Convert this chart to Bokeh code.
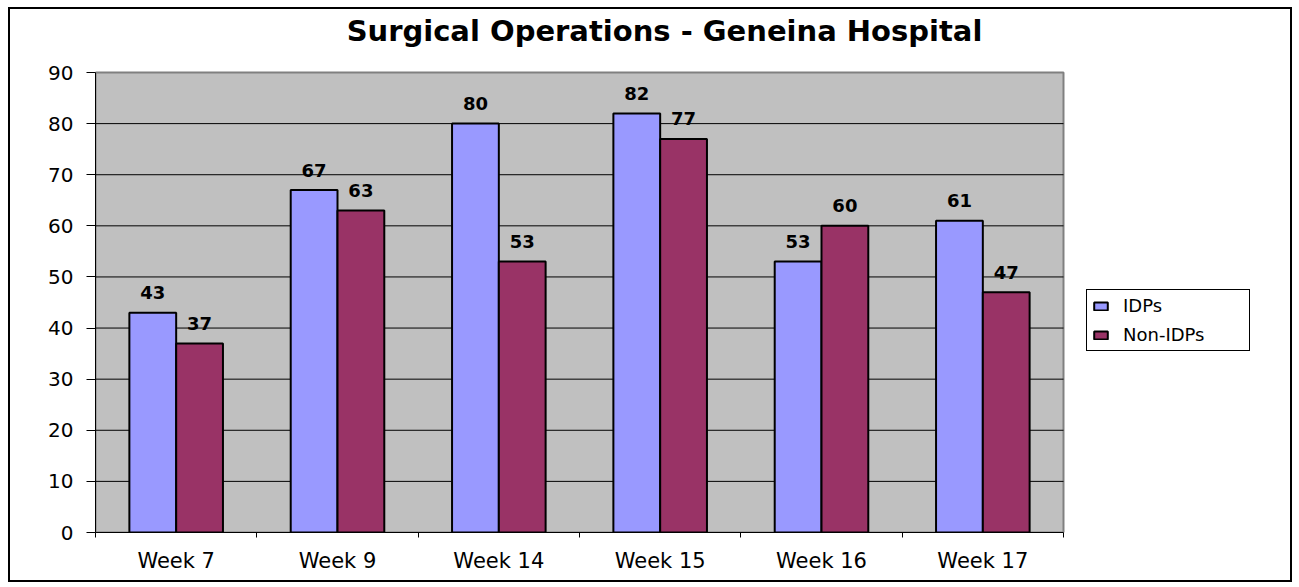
from bokeh.plotting import figure
from bokeh.models import Range1d, FixedTicker, Legend, LegendItem, Label
from bokeh.embed import file_html
from bokeh.resources import INLINE
from bokeh.core.properties import value

weeks = ["Week 7", "Week 9", "Week 14", "Week 15", "Week 16", "Week 17"]
idps = [43, 67, 80, 82, 53, 61]
non_idps = [37, 63, 53, 77, 60, 47]
y_ticks = [0, 10, 20, 30, 40, 50, 60, 70, 80, 90]
series_names = ["IDPs", "Non-IDPs"]
title_text = "Surgical Operations - Geneina Hospital"

FONT = "DejaVu Sans"
IDP_COLOR = "#9999FF"
NON_COLOR = "#993366"
PLOT_GRAY = "#C0C0C0"

# layout (pixels)
W, H = 1284, 575
LEFT, BOTTOM = 85, 52
PLOT_W, PLOT_H = 968, 460          # width/height of the gray plot area
FRAME_W = 1175                     # frame extends right to hold the legend
FRAME_H = H - BOTTOM               # frame extends up to hold the title

n = len(weeks)
y_max = y_ticks[-1]
x_end = n * FRAME_W / PLOT_W
y_end = y_max * FRAME_H / PLOT_H

centers = [i + 0.5 for i in range(n)]
bar_w = 0.29
x_idp = [c - bar_w / 2 for c in centers]
x_non = [c + bar_w / 2 for c in centers]

p = figure(width=W, height=H, output_backend="svg", toolbar_location=None,
           x_range=Range1d(0, x_end), y_range=Range1d(0, y_end),
           min_border_left=LEFT, min_border_right=W - LEFT - FRAME_W,
           min_border_top=0, min_border_bottom=BOTTOM,
           background_fill_color="white", border_fill_color="white")
p.styles = {"border": "2px solid black", "margin-left": "8px", "margin-top": "7px"}
p.outline_line_color = None

# gray plot area
p.quad(left=[0], right=[n], bottom=[0], top=[y_max], level="image",
       fill_color=PLOT_GRAY, line_color="#808080", line_width=2)
# horizontal gridlines inside the plot area
inner = y_ticks[1:-1]
p.segment(x0=[0] * len(inner), x1=[n] * len(inner), y0=inner, y1=inner,
          line_color="black", line_width=1, level="underlay")

r1 = p.vbar(x=x_idp, top=idps, bottom=0, width=bar_w, fill_color=IDP_COLOR,
            line_color="black", line_width=2)
r2 = p.vbar(x=x_non, top=non_idps, bottom=0, width=bar_w, fill_color=NON_COLOR,
            line_color="black", line_width=2)

p.text(x=x_idp, y=idps, text=[str(v) for v in idps], text_align="center",
       text_baseline="alphabetic", y_offset=-20, text_font=value(FONT),
       text_font_style="bold", text_font_size="18px", text_color="black")
p.text(x=x_non, y=non_idps, text=[str(v) for v in non_idps], text_align="center",
       text_baseline="alphabetic", y_offset=-20, text_font=value(FONT),
       text_font_style="bold", text_font_size="18px", text_color="black")

# x axis
p.xaxis.bounds = (0, n)
p.xaxis.ticker = FixedTicker(ticks=centers, minor_ticks=list(range(n + 1)))
p.xaxis.major_label_overrides = {c: w for c, w in zip(centers, weeks)}
p.xaxis.major_tick_out = 0
p.xaxis.major_tick_in = 0
p.xaxis.minor_tick_out = 5
p.xaxis.minor_tick_in = 0
p.xaxis.minor_tick_line_color = "black"
p.xaxis.axis_line_color = "black"
p.xaxis.axis_line_width = 1
p.xaxis.major_label_text_font = FONT
p.xaxis.major_label_text_font_size = "21px"
p.xaxis.major_label_text_color = "black"
p.xaxis.major_label_standoff = 11

# y axis
p.yaxis.bounds = (0, y_max)
p.yaxis.ticker = FixedTicker(ticks=y_ticks)
p.yaxis.major_tick_out = 9
p.yaxis.major_tick_in = 0
p.yaxis.major_tick_line_color = "black"
p.yaxis.minor_tick_line_color = None
p.yaxis.axis_line_color = "black"
p.yaxis.major_label_text_font = FONT
p.yaxis.major_label_text_font_size = "20px"
p.yaxis.major_label_text_color = "black"
p.yaxis.major_label_standoff = 13

p.xgrid.grid_line_color = None
p.ygrid.grid_line_color = None

# title
p.add_layout(Label(x=569, y=502, x_units="screen", y_units="screen", text=title_text,
                   text_align="center", text_baseline="alphabetic",
                   text_font=FONT, text_font_style="bold", text_font_size="29px",
                   text_color="black"))

legend = Legend(items=[LegendItem(label=series_names[0], renderers=[r1]),
                       LegendItem(label=series_names[1], renderers=[r2])],
                location=(991, 181), orientation="vertical",
                label_text_font=FONT, label_text_font_size="18px", label_text_color="black",
                glyph_width=17, glyph_height=10, label_height=20, label_width=121,
                label_standoff=14, spacing=8, padding=5, margin=0,
                border_line_color="black", border_line_width=1, border_line_alpha=1,
                background_fill_color="white", background_fill_alpha=1)
p.add_layout(legend, "center")

open("out.html", "w").write(file_html(p, INLINE))
